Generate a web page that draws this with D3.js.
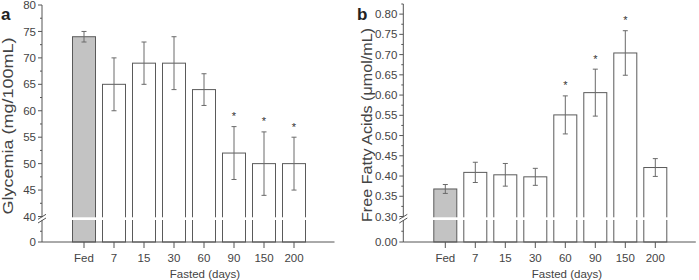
<!DOCTYPE html>
<html>
<head>
<meta charset="utf-8">
<script src="https://cdn.jsdelivr.net/npm/d3@7"></script>
<style>
  body { margin: 0; background: #fff; }
  svg { display: block; font-family: "Liberation Sans", Arial, sans-serif; }
</style>
</head>
<body>
<svg id="chart" width="699" height="280"></svg>
<script>
const categories = ["Fed", "7", "15", "30", "60", "90", "150", "200"];

// panel a - glycemia
const glycemiaMean = [74, 65, 69, 69, 64, 52, 50, 50];
const glycemiaErr = [1, 5, 4, 5, 3, 5, 6, 5];
const glycemiaSig = [false, false, false, false, false, true, true, true];
const glycemiaTicks = [0, 40, 45, 50, 55, 60, 65, 70, 75, 80];

// panel b - free fatty acids
const ffaMean = [0.368, 0.409, 0.403, 0.398, 0.551, 0.606, 0.704, 0.421];
const ffaErr = [0.011, 0.025, 0.028, 0.021, 0.047, 0.058, 0.055, 0.022];
const ffaSig = [false, false, false, false, true, true, true, false];
const ffaTicks = [0, 0.30, 0.35, 0.40, 0.45, 0.50, 0.55, 0.60, 0.65, 0.70, 0.75, 0.80];

const svg = d3.select("#chart");
const axisColor = "#555";
const textColor = "#444";

function drawPanel(opt) {
    const g = svg.append("g");
    const base = 242;

    const x = d3.scaleLinear()
        .domain([-1.4, 8.35])
        .range([opt.left, opt.left + 292.5]);

    // broken y axis: lower stub + upper segment
    const y = d3.scaleLinear()
        .domain([0, opt.lowTop, opt.breakVal, opt.max])
        .range([base, 220.5, 216.5, opt.top]);

    const bw = 23;

    // bars
    g.selectAll(".bar")
        .data(opt.mean)
        .enter()
        .append("rect")
        .attr("x", (d, i) => x(i) - bw / 2)
        .attr("y", d => y(d))
        .attr("width", bw)
        .attr("height", d => base - y(d))
        .attr("fill", (d, i) => i === 0 ? "#c3c3c3" : "#fff")
        .attr("stroke", "#5a5a5a")
        .attr("stroke-width", 1);

    // break gap through the plot
    g.append("rect")
        .attr("x", opt.left - 6)
        .attr("y", 217.3)
        .attr("width", 300)
        .attr("height", 2.7)
        .attr("fill", "#fff");

    // error bars
    const eb = g.selectAll(".err")
        .data(opt.mean)
        .enter()
        .append("g")
        .attr("stroke", "#6a6a6a")
        .attr("stroke-width", 1);
    eb.append("line")
        .attr("x1", (d, i) => x(i)).attr("x2", (d, i) => x(i))
        .attr("y1", (d, i) => y(d + opt.err[i]))
        .attr("y2", (d, i) => y(d - opt.err[i]));
    eb.append("line")
        .attr("x1", (d, i) => x(i) - 2.5).attr("x2", (d, i) => x(i) + 2.5)
        .attr("y1", (d, i) => y(d + opt.err[i]))
        .attr("y2", (d, i) => y(d + opt.err[i]));
    eb.append("line")
        .attr("x1", (d, i) => x(i) - 2.5).attr("x2", (d, i) => x(i) + 2.5)
        .attr("y1", (d, i) => y(d - opt.err[i]))
        .attr("y2", (d, i) => y(d - opt.err[i]));

    // significance stars
    g.selectAll(".star")
        .data(opt.mean.map((d, i) => i).filter(i => opt.sig[i]))
        .enter()
        .append("text")
        .attr("x", i => x(i))
        .attr("y", i => y(opt.mean[i] + opt.err[i]) - 6.5)
        .attr("text-anchor", "middle")
        .attr("font-size", 11)
        .attr("fill", "#333")
        .text("*");

    // y axis line (two pieces around the break)
    g.append("line")
        .attr("x1", opt.left).attr("x2", opt.left)
        .attr("y1", y(opt.max)).attr("y2", 217.3)
        .attr("stroke", axisColor);
    g.append("line")
        .attr("x1", opt.left).attr("x2", opt.left)
        .attr("y1", 220).attr("y2", base)
        .attr("stroke", axisColor);

    // break marks
    [216.8, 220.5].forEach(yy => {
        g.append("line")
            .attr("x1", opt.left - 4).attr("y1", yy + 2.5)
            .attr("x2", opt.left + 4).attr("y2", yy - 2.5)
            .attr("stroke", axisColor);
    });

    // major ticks + labels
    g.selectAll(".ytick")
        .data(opt.ticks)
        .enter()
        .append("line")
        .attr("x1", opt.left - 4).attr("x2", opt.left)
        .attr("y1", d => y(d)).attr("y2", d => y(d))
        .attr("stroke", axisColor);
    g.selectAll(".ylab")
        .data(opt.ticks)
        .enter()
        .append("text")
        .attr("x", opt.left - 6)
        .attr("y", d => y(d))
        .attr("dy", "0.36em")
        .attr("text-anchor", "end")
        .attr("font-size", 11.5)
        .attr("fill", textColor)
        .text(opt.fmt);

    // minor ticks
    g.selectAll(".ymin")
        .data(opt.minor)
        .enter()
        .append("line")
        .attr("x1", opt.left - 2).attr("x2", opt.left)
        .attr("y1", d => y(d)).attr("y2", d => y(d))
        .attr("stroke", axisColor);

    // x axis
    g.append("line")
        .attr("x1", opt.left).attr("x2", opt.left + 292.5)
        .attr("y1", base).attr("y2", base)
        .attr("stroke", axisColor);
    g.selectAll(".xtick")
        .data(categories)
        .enter()
        .append("line")
        .attr("x1", (d, i) => x(i)).attr("x2", (d, i) => x(i))
        .attr("y1", base).attr("y2", base + 6)
        .attr("stroke", axisColor);
    g.selectAll(".xlab")
        .data(categories)
        .enter()
        .append("text")
        .attr("x", (d, i) => x(i))
        .attr("y", 262)
        .attr("text-anchor", "middle")
        .attr("font-size", 11.5)
        .attr("fill", textColor)
        .text(d => d);

    g.append("text")
        .attr("x", opt.xTitleX)
        .attr("y", 278)
        .attr("text-anchor", "middle")
        .attr("font-size", 11.5)
        .attr("fill", textColor)
        .text("Fasted (days)");

    // y title
    g.append("text")
        .attr("transform", `translate(${opt.yTitleX},${opt.yTitleY}) rotate(-90)`)
        .attr("text-anchor", "middle")
        .attr("font-size", 14)
        .attr("fill", textColor)
        .attr("textLength", opt.yTitleLen)
        .attr("lengthAdjust", "spacingAndGlyphs")
        .text(opt.yTitle);

    // panel letter
    g.append("text")
        .attr("x", opt.letterX)
        .attr("y", 20)
        .attr("font-size", 17)
        .attr("font-weight", "bold")
        .attr("fill", "#222")
        .text(opt.letter);
}

drawPanel({
    left: 42, top: 5, max: 80, breakVal: 40, lowTop: 10,
    mean: glycemiaMean, err: glycemiaErr, sig: glycemiaSig,
    ticks: glycemiaTicks,
    minor: [5].concat(d3.range(42.5, 80, 5)),
    fmt: d => d3.format("d")(d),
    yTitle: "Glycemia (mg/100mL)", yTitleX: 13, yTitleY: 126, yTitleLen: 177,
    xTitleX: 205, letter: "a", letterX: 1
});

drawPanel({
    left: 403.3, top: 4, max: 0.825, breakVal: 0.30, lowTop: 0.055,
    mean: ffaMean, err: ffaErr, sig: ffaSig,
    ticks: ffaTicks,
    minor: [0.0275].concat(d3.range(0.325, 0.83, 0.05)),
    fmt: d => d3.format(".2f")(d),
    yTitle: "Free Fatty Acids (\u03bcmol/mL)", yTitleX: 372, yTitleY: 125, yTitleLen: 194,
    xTitleX: 567, letter: "b", letterX: 357
});
</script>
</body>
</html>
